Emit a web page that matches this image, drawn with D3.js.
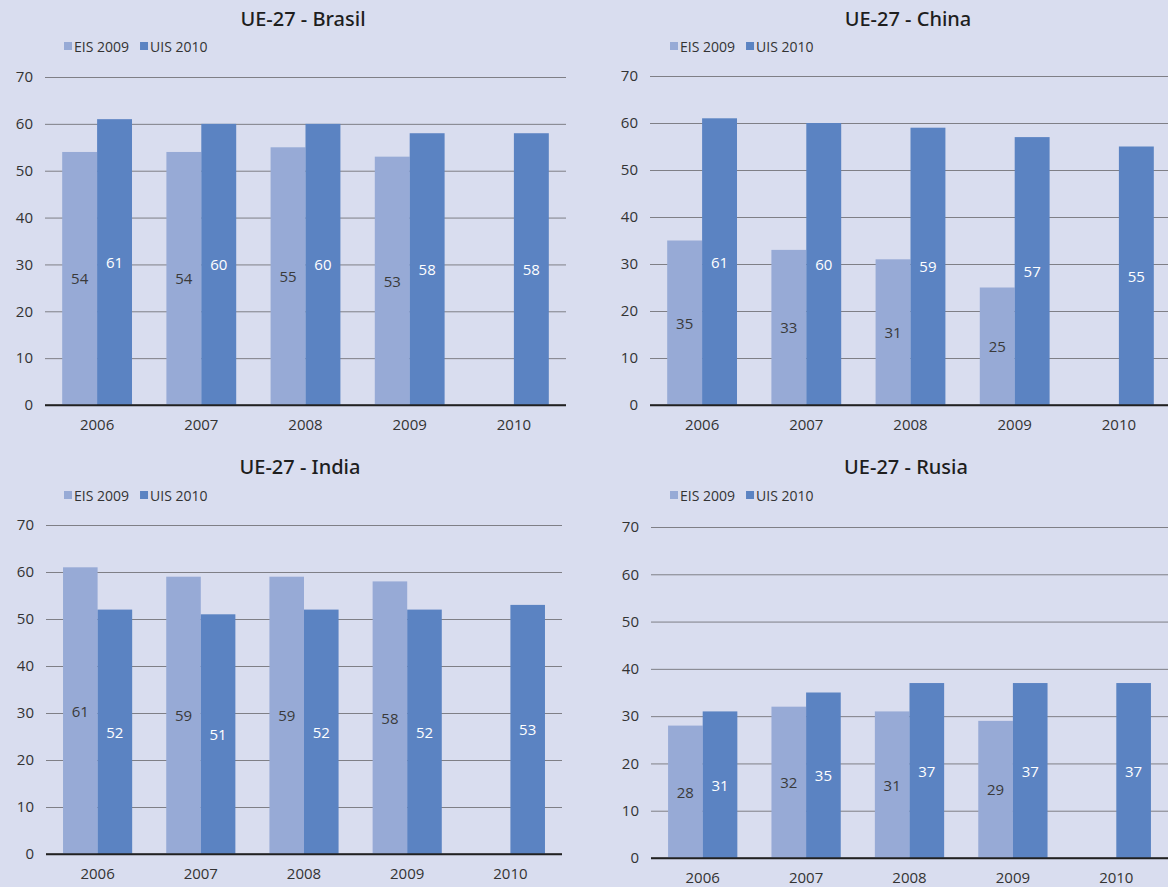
<!DOCTYPE html>
<html><head><meta charset="utf-8">
<script src="https://cdn.jsdelivr.net/npm/d3@7/dist/d3.min.js"></script>
<style>
html,body{margin:0;padding:0;background:#d9ddef;}
svg{display:block;font-family:"Open Sans","Noto Sans",sans-serif;}
</style></head>
<body>
<svg id="chart" width="1168" height="887"></svg>
<script>
const years = ["2006","2007","2008","2009","2010"];
const seriesNames = ["EIS 2009","UIS 2010"];
const yTicks = [0,10,20,30,40,50,60,70];
const titles = ["UE-27 - Brasil","UE-27 - China","UE-27 - India","UE-27 - Rusia"];
const brasilEIS = [54,54,55,53,null];
const brasilUIS = [61,60,60,58,58];
const chinaEIS = [35,33,31,25,null];
const chinaUIS = [61,60,59,57,55];
const indiaEIS = [61,59,59,58,null];
const indiaUIS = [52,51,52,52,53];
const rusiaEIS = [28,32,31,29,null];
const rusiaUIS = [31,35,37,37,37];

const colors = ["#97aad6","#5b83c2"];
const labelColors = ["#3a3a3a","#ffffff"];

const panels = [
  {title:titles[0], eis:brasilEIS, uis:brasilUIS, x0:45, x1:566, y0:405, y70:77, ty:18, tx:303, ly:46, lx:64},
  {title:titles[1], eis:chinaEIS, uis:chinaUIS, x0:650, x1:1171, y0:405, y70:76, ty:18, tx:908, ly:46, lx:670},
  {title:titles[2], eis:indiaEIS, uis:indiaUIS, x0:46, x1:562, y0:854, y70:525, ty:466, tx:300, ly:495, lx:64},
  {title:titles[3], eis:rusiaEIS, uis:rusiaUIS, x0:651, x1:1168, y0:858, y70:527, ty:466, tx:906, ly:495, lx:670}
];

const svg = d3.select("#chart");

panels.forEach(p => {
  const g = svg.append("g");
  const x = d3.scaleBand().domain(years).range([p.x0,p.x1]).paddingInner(0.33).paddingOuter(0.165);
  const xs = d3.scaleBand().domain(seriesNames).range([0,x.bandwidth()]);
  const y = d3.scaleLinear().domain([0,70]).range([p.y0,p.y70]);

  // title
  g.append("text").attr("x",p.tx).attr("y",p.ty).attr("text-anchor","middle")
    .attr("dominant-baseline","central").attr("font-size",20).attr("font-weight",500)
    .attr("font-family","'Noto Sans','Open Sans',sans-serif")
    .attr("fill","#1e1e1e").text(p.title);

  // legend
  let lx = p.lx;
  seriesNames.forEach((s,i) => {
    g.append("rect").attr("x",lx).attr("y",p.ly-4).attr("width",8).attr("height",8).attr("fill",colors[i]);
    const t = g.append("text").attr("x",lx+10).attr("y",p.ly).attr("dominant-baseline","central")
      .attr("font-size",14).attr("fill","#333").text(s);
    lx += 10 + t.node().getComputedTextLength() + 11;
  });

  // grid
  const yAxis = d3.axisLeft(y).tickValues(yTicks).tickSize(-(p.x1-p.x0)).tickPadding(12);
  const ga = g.append("g").attr("transform",`translate(${p.x0},0)`).call(yAxis);
  ga.select(".domain").remove();
  ga.selectAll(".tick line").attr("stroke",d => d===0 ? "#222" : "#7f7f86").attr("stroke-width",d=>d===0?1.5:1);
  ga.selectAll(".tick text").attr("font-size",15).attr("fill","#333").attr("font-family","'Open Sans','Noto Sans',sans-serif");

  // bars
  const data = years.map((yr,i) => ({yr, vals:[p.eis[i], p.uis[i]]}));
  const grp = g.selectAll(".grp").data(data).enter().append("g")
    .attr("transform",d=>`translate(${x(d.yr)},0)`);
  grp.selectAll("rect").data(d => d.vals.map((v,i)=>({v,i}))).enter()
    .filter(d => d.v !== null)
    .append("rect")
    .attr("x",d=>xs(seriesNames[d.i])).attr("width",xs.bandwidth())
    .attr("y",d=>y(d.v)).attr("height",d=>y(0)-y(d.v)).attr("fill",d=>colors[d.i]);
  grp.selectAll("text").data(d => d.vals.map((v,i)=>({v,i}))).enter()
    .filter(d => d.v !== null)
    .append("text")
    .attr("x",d=>xs(seriesNames[d.i])+xs.bandwidth()/2)
    .attr("y",d=>(y(d.v)+y(0))/2).attr("text-anchor","middle").attr("dominant-baseline","central")
    .attr("font-size",15).attr("fill",d=>labelColors[d.i]).text(d=>d.v);

  // zero line on top
  g.append("line").attr("x1",p.x0).attr("x2",p.x1).attr("y1",y(0)).attr("y2",y(0)).attr("stroke","#222").attr("stroke-width",1.5);

  // x axis labels
  const xAxis = d3.axisBottom(x).tickSize(0).tickPadding(14);
  const gx = g.append("g").attr("transform",`translate(0,${p.y0})`).call(xAxis);
  gx.select(".domain").remove();
  gx.selectAll(".tick text").attr("font-size",15).attr("fill","#333").attr("font-family","'Open Sans','Noto Sans',sans-serif");
});
</script>
</body></html>
